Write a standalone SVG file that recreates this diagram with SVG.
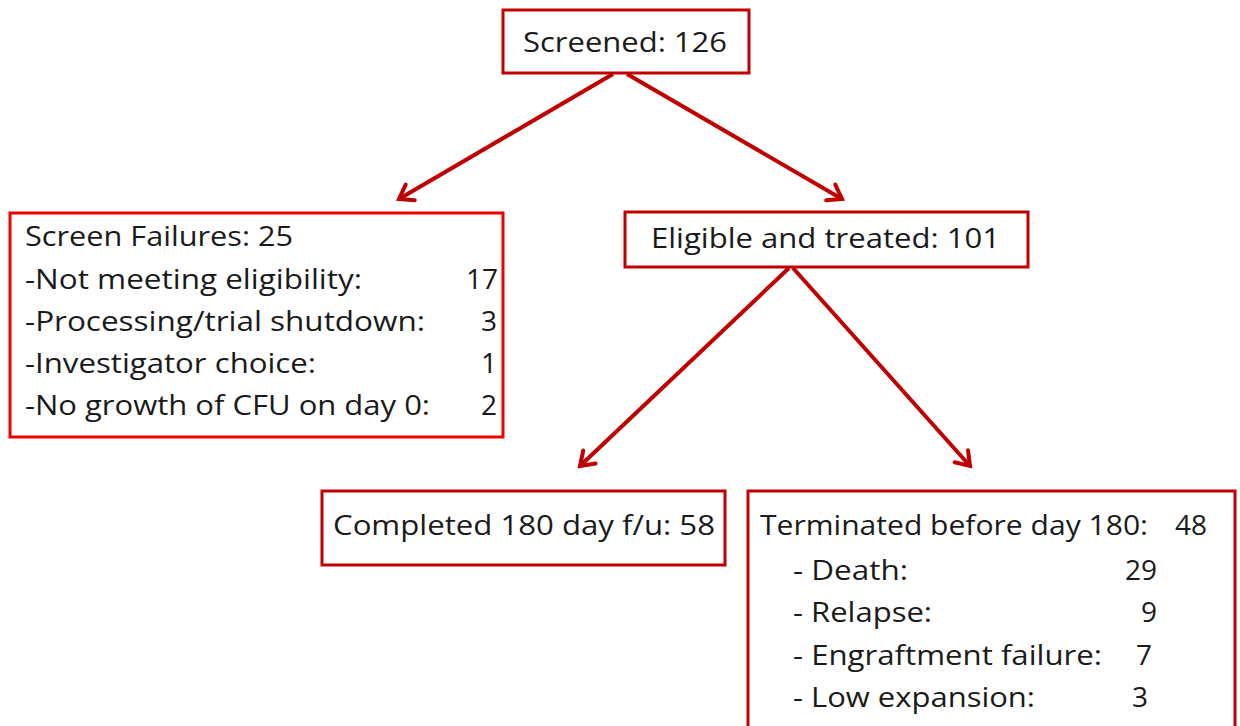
<svg xmlns="http://www.w3.org/2000/svg" width="1240" height="726" viewBox="0 0 1240 726">
<style>
  .box { fill: #ffffff; stroke: #c00000; stroke-width: 3; }
  .box2 { fill: #ffffff; stroke: #ee0000; stroke-width: 3; }
  .t { font-family: "Open Sans", "Liberation Sans", sans-serif; font-size: 28px; fill: #1a1a1a; }
  .n { text-anchor: end; }
  .conn { stroke: #c00000; stroke-width: 4; fill: none; }
</style>
<defs>
  <marker id="arr" markerUnits="userSpaceOnUse" viewBox="0 0 24 24" markerWidth="24" markerHeight="24" refX="19" refY="12" orient="auto">
    <path d="M6,3 L19,12 L6,21" fill="none" stroke="#c00000" stroke-width="4" stroke-linecap="round" stroke-linejoin="miter"/>
  </marker>
</defs>
<rect width="1240" height="726" fill="#ffffff"/>
<g id="connectors">
  <line class="conn" x1="613" y1="74" x2="399" y2="199" marker-end="url(#arr)"/>
  <line class="conn" x1="627" y1="74" x2="842" y2="199" marker-end="url(#arr)"/>
  <line class="conn" x1="789" y1="268" x2="580" y2="466" marker-end="url(#arr)"/>
  <line class="conn" x1="793" y1="268" x2="970" y2="466" marker-end="url(#arr)"/>
</g>
<g id="screened">
  <rect class="box" x="503" y="10" width="246" height="63"/>
  <text class="t" x="523" y="52" textLength="204" lengthAdjust="spacingAndGlyphs">Screened: 126</text>
</g>
<g id="screen-failures">
  <rect class="box2" x="10" y="213" width="493" height="224"/>
  <text class="t" x="25" y="246" textLength="268" lengthAdjust="spacingAndGlyphs">Screen Failures: 25</text>
  <text class="t" x="25" y="289" textLength="337" lengthAdjust="spacingAndGlyphs">-Not meeting eligibility:</text>
  <text class="t n" x="498" y="289">17</text>
  <text class="t" x="25" y="331" textLength="400" lengthAdjust="spacingAndGlyphs">-Processing/trial shutdown:</text>
  <text class="t n" x="497" y="331">3</text>
  <text class="t" x="25" y="373" textLength="291" lengthAdjust="spacingAndGlyphs">-Investigator choice:</text>
  <text class="t n" x="497" y="373">1</text>
  <text class="t" x="25" y="415" textLength="405" lengthAdjust="spacingAndGlyphs">-No growth of CFU on day 0:</text>
  <text class="t n" x="497" y="415">2</text>
</g>
<g id="eligible">
  <rect class="box" x="625" y="212" width="403" height="55"/>
  <text class="t" x="651" y="248" textLength="349" lengthAdjust="spacingAndGlyphs">Eligible and treated: 101</text>
</g>
<g id="completed">
  <rect class="box" x="322" y="491" width="403" height="74"/>
  <text class="t" x="333" y="535" textLength="382" lengthAdjust="spacingAndGlyphs">Completed 180 day f/u: 58</text>
</g>
<g id="terminated">
  <rect class="box" x="748" y="491" width="487" height="245"/>
  <text class="t" x="760" y="535" textLength="388" lengthAdjust="spacingAndGlyphs">Terminated before day 180:</text>
  <text class="t n" x="1207" y="535">48</text>
  <text class="t" x="793" y="580" textLength="115" lengthAdjust="spacingAndGlyphs">- Death:</text>
  <text class="t n" x="1157" y="580">29</text>
  <text class="t" x="793" y="622" textLength="139" lengthAdjust="spacingAndGlyphs">- Relapse:</text>
  <text class="t n" x="1157" y="622">9</text>
  <text class="t" x="793" y="665" textLength="309" lengthAdjust="spacingAndGlyphs">- Engraftment failure:</text>
  <text class="t n" x="1152" y="665">7</text>
  <text class="t" x="793" y="707" textLength="242" lengthAdjust="spacingAndGlyphs">- Low expansion:</text>
  <text class="t n" x="1148" y="707">3</text>
</g>
</svg>
